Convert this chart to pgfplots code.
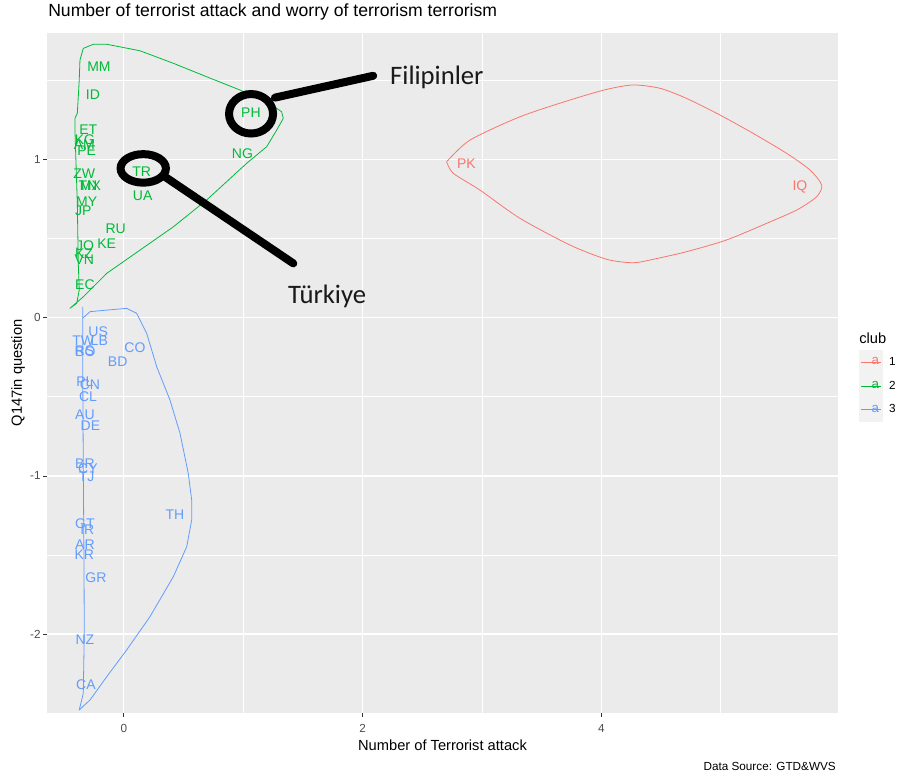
\documentclass[border=0pt]{standalone}
\usepackage{pgfplots}
\pgfplotsset{compat=1.18}
\usepackage{pgfplotstable}
\usepackage{fontspec}
\setmainfont{Liberation Sans}
\newfontfamily\carlito{Carlito}
\definecolor{cone}{HTML}{F8766D}
\definecolor{ctwo}{HTML}{00BA38}
\definecolor{cthree}{HTML}{619CFF}
\definecolor{ggbg}{HTML}{EBEBEB}
\definecolor{ggkey}{HTML}{F2F2F2}
\definecolor{gray30}{HTML}{4D4D4D}
\definecolor{gray20}{HTML}{333333}

\pgfplotstableread{
x y label
2.870 0.969 PK
5.663 0.822 IQ
}\clubone
\pgfplotstableread{
x y label
-0.208 1.582 MM
-0.258 1.405 ID
1.065 1.294 PH
-0.297 1.184 ET
-0.325 1.125 KG
-0.331 1.090 AM
-0.311 1.054 PE
0.994 1.037 NG
-0.331 0.911 ZW
0.150 0.921 TR
-0.300 0.832 TN
-0.280 0.832 MX
0.158 0.769 UA
-0.311 0.731 MY
-0.339 0.673 JP
-0.068 0.563 RU
-0.143 0.468 KE
-0.325 0.452 JO
-0.333 0.401 KZ
-0.331 0.368 VN
-0.325 0.210 EC
}\clubtwo
\pgfplotstableread{
x y label
-0.214 -0.090 US
-0.339 -0.147 TW
-0.205 -0.147 LB
-0.330 -0.208 RS
-0.322 -0.218 BO
0.094 -0.188 CO
-0.051 -0.279 BD
-0.325 -0.405 PL
-0.283 -0.422 CN
-0.299 -0.500 CL
-0.325 -0.616 AU
-0.279 -0.685 DE
-0.325 -0.921 BR
-0.300 -0.957 CY
-0.311 -1.005 TJ
0.429 -1.247 TH
-0.325 -1.304 GT
-0.305 -1.342 IR
-0.325 -1.437 AR
-0.331 -1.500 KR
-0.233 -1.643 GR
-0.325 -2.033 NZ
-0.317 -2.321 CA
}\clubthree

\newcommand{\lbl}{\fontsize{10.5}{12}\selectfont}

\begin{document}
\begin{tikzpicture}
\begin{axis}[
  scale only axis,
  width=593.25pt, height=510.2pt,
  xmin=-0.643, xmax=5.982, ymin=-2.498, ymax=1.799,
  axis background/.style={fill=ggbg},
  axis line style={draw=none},
  xtick={0,2,4}, xticklabels={0,2,4},
  ytick={-2,-1,0,1}, yticklabels={-2,-1,0,1},
  minor xtick={1,3,5}, minor ytick={-1.5,-0.5,0.5,1.5},
  grid=both,
  major grid style={white, line width=1.07pt},
  minor grid style={white, line width=0.53pt},
  tick align=outside,
  major tick length=2.75pt, minor tick length=0pt,
  tick style={gray20, line width=0.5pt},
  xtick pos=bottom, ytick pos=left,
  ticklabel style={font=\fontsize{8.8}{10}\selectfont, text=gray30},
  xticklabel style={yshift=-2.5pt},
  yticklabel style={xshift=1.5pt},
  xlabel={Number of Terrorist attack},
  ylabel={Q147in question},
  label style={font=\fontsize{11}{13}\selectfont},
  xlabel style={at={(axis description cs:0.5,-0.047)}, anchor=center},
  ylabel style={at={(axis description cs:-0.0367,0.5)}, anchor=center, rotate=0},
  legend style={at={(axis description cs:1.0265,0.5336)}, anchor=north west,
    draw=none, fill=none, inner sep=0pt, row sep=0pt, column sep=4.5pt,
    nodes={inner sep=0pt, anchor=west}, font=\fontsize{8.8}{10}\selectfont},
  legend cell align=left,
  legend image code/.code={
    \fill[ggkey] (0pt,-8.625pt) rectangle (17.25pt,8.625pt);
    \draw[#1] (1.2pt,0pt) -- (16.05pt,0pt);
    \node[#1, inner sep=0pt, font=\fontsize{10}{11}\selectfont] at (8.625pt,0pt) {a};
  },
  clip mode=individual,
]
% hulls
\addplot[color=cone, line width=0.6pt, smooth, tension=0.45] coordinates {
(2.704,0.984) (2.900,1.121) (3.318,1.268) (3.737,1.374) (4.044,1.441) (4.267,1.469)
(4.491,1.448) (4.714,1.384) (4.994,1.279) (5.272,1.163) (5.552,1.037) (5.747,0.932)
(5.845,0.837) (5.803,0.763) (5.636,0.679) (5.384,0.595) (5.049,0.490) (4.714,0.416)
(4.435,0.368) (4.267,0.346) (4.044,0.368) (3.737,0.458) (3.318,0.627) (2.983,0.805)
(2.760,0.911) (2.704,0.984)};
\addlegendentry{1}
\addplot[color=ctwo, line width=0.6pt, line join=round] coordinates {
(-0.367,1.626) (-0.339,1.700) (-0.255,1.726) (-0.143,1.726) (-0.032,1.710) (0.136,1.685)
(0.415,1.606) (0.694,1.521) (0.973,1.437) (1.197,1.363) (1.322,1.300) (1.336,1.258)
(1.281,1.184) (1.197,1.079) (1.029,0.974) (0.694,0.742) (0.415,0.573) (0.136,0.426)
(-0.143,0.279) (-0.339,0.131) (-0.451,0.058) (-0.394,0.090) (-0.373,0.174) (-0.381,0.342)
(-0.389,0.721) (-0.400,0.974) (-0.409,1.184) (-0.409,1.258) (-0.389,1.290) (-0.373,1.500)
(-0.367,1.626)};
\addlegendentry{2}
\addplot[color=cthree, line width=0.6pt, line join=round] coordinates {
(-0.344,0.068) (-0.344,-0.005) (-0.283,0.037) (-0.143,0.047) (0.024,0.058) (0.108,0.027)
(0.192,-0.100) (0.276,-0.311) (0.387,-0.521) (0.471,-0.731) (0.540,-0.984) (0.569,-1.153)
(0.569,-1.279) (0.527,-1.448) (0.415,-1.637) (0.219,-1.890) (0.024,-2.100) (-0.143,-2.269)
(-0.283,-2.416) (-0.373,-2.479) (-0.339,-2.374) (-0.331,-1.995) (-0.333,-1.552)
(-0.339,-0.942) (-0.344,-0.311) (-0.344,0.068)};
\addlegendentry{3}
% labels
\addplot[forget plot, only marks, mark=none, color=cone, nodes near coords, point meta=explicit symbolic,
  nodes near coords style={anchor=center, inner sep=0pt, font=\lbl}] table[x=x,y=y,meta=label] {\clubone};
\addplot[forget plot, only marks, mark=none, color=ctwo, nodes near coords, point meta=explicit symbolic,
  nodes near coords style={anchor=center, inner sep=0pt, font=\lbl}] table[x=x,y=y,meta=label] {\clubtwo};
\addplot[forget plot, only marks, mark=none, color=cthree, nodes near coords, point meta=explicit symbolic,
  nodes near coords style={anchor=center, inner sep=0pt, font=\lbl}] table[x=x,y=y,meta=label] {\clubthree};
% annotations
\draw[black, line width=6pt] (axis cs:1.066,1.287) ellipse [x radius=16.5pt, y radius=14.8pt];
\draw[black, line width=6pt, line cap=round] (axis cs:1.266,1.389) -- (axis cs:2.089,1.527);
\draw[black, line width=6pt] (axis cs:0.163,0.942) ellipse [x radius=17pt, y radius=10.7pt];
\draw[black, line width=6pt, line cap=round] (axis cs:0.345,0.889) -- (axis cs:1.420,0.342);
\node[anchor=base west, inner sep=0pt, font=\carlito\fontsize{20}{24}\selectfont, text=black!90] at (axis cs:2.229,1.473) {Filipinler};
\node[anchor=base west, inner sep=0pt, font=\carlito\fontsize{20}{24}\selectfont, text=black!90] at (axis cs:1.375,0.090) {Türkiye};
\end{axis}
% outside texts (axis box south west corner at origin)
\node[anchor=base west, inner sep=0pt, font=\fontsize{13.2}{15}\selectfont] at (0.75pt,522pt) {Number of terrorist attack and worry of terrorism terrorism};
\node[anchor=base east, inner sep=0pt, font=\fontsize{8.8}{10}\selectfont] at (591.75pt,-43.5pt) {Data Source: GTD\&WVS};
\node[anchor=base west, inner sep=0pt, font=\fontsize{11}{13}\selectfont] at (609pt,277.1pt) {club};
\pgfresetboundingbox
\path (-35.25pt,-48.75pt) rectangle (639.75pt,534.75pt);
\end{tikzpicture}
\end{document}
